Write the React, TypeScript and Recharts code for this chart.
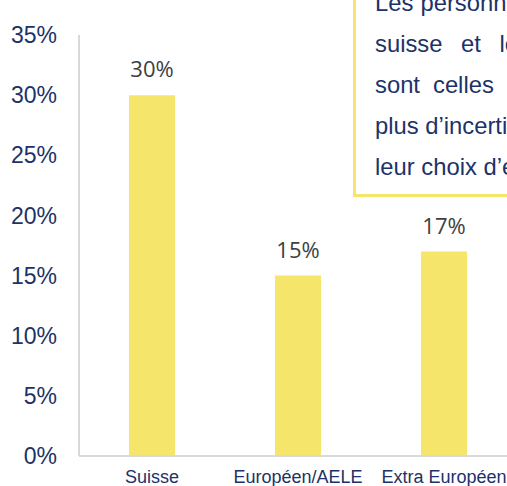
import React from "react";
import { BarChart, Bar, XAxis, YAxis, LabelList } from "recharts";

const categories = ["Suisse", "Européen/AELE", "Extra Européen"];
const values = [30, 15, 17];
const yTicks = [0, 5, 10, 15, 20, 25, 30, 35];
const noteLines = [
  "Les personnes de nationalité",
  "suisse et les binationaux",
  "sont celles qui ont le",
  "plus d’incertitude quant à",
  "leur choix d’emploi.",
];
const noteWordSpacing = [0.5, 12, 6.4, 0, 0];

const data = categories.map((c, i) => ({ name: c, value: values[i] }));

const NAVY = "#1C3268";
const YELLOW = "#F5E66B";

export default function App() {
  return (
    <div
      style={{
        position: "absolute",
        left: 0,
        top: 0,
        width: 507,
        height: 486,
        overflow: "hidden",
        background: "#fff",
      }}
    >
      <BarChart
        width={517}
        height={486}
        data={data}
        margin={{ top: 35, right: 0, bottom: 0, left: 0 }}
      >
        <YAxis
          width={79}
          domain={[0, 35]}
          ticks={yTicks}
          tickFormatter={(v: number) => `${v}%`}
          tickLine={false}
          tickSize={0}
          tickMargin={22}
          axisLine={{ stroke: "#D9D9D9", strokeWidth: 2 }}
          tick={{ fill: NAVY, fontSize: 23, fontFamily: "Liberation Sans, Arial, sans-serif" }}
          interval={0}
        />
        <XAxis
          dataKey="name"
          height={30}
          tickLine={false}
          tickSize={0}
          tickMargin={14.5}
          axisLine={{ stroke: "#D9D9D9", strokeWidth: 2 }}
          tick={{ fill: NAVY, fontSize: 18, fontFamily: "Liberation Sans, Arial, sans-serif" }}
          interval={0}
        />
        <Bar dataKey="value" fill={YELLOW} barSize={46} isAnimationActive={false}>
          <LabelList
            dataKey="value"
            position="top"
            offset={18}
            formatter={(v: number) => `${v}%`}
            style={{ fill: "#404040", fontSize: 22, fontFamily: "Open Sans, sans-serif" }}
          />
        </Bar>
      </BarChart>
      <div
        style={{
          position: "absolute",
          left: 353,
          top: -60,
          width: 400,
          height: 257,
          boxSizing: "border-box",
          border: `3px solid ${YELLOW}`,
          background: "#fff",
        }}
      />
      <div
        style={{
          position: "absolute",
          left: 375,
          top: -16.6,
          fontFamily: "Liberation Sans, Arial, sans-serif",
          fontSize: 23.8,
          lineHeight: "40.8px",
          color: NAVY,
          whiteSpace: "nowrap",
        }}
      >
        {noteLines.map((l, i) => (
          <div key={i} style={{ wordSpacing: noteWordSpacing[i] }}>
            {l}
          </div>
        ))}
      </div>
    </div>
  );
}
